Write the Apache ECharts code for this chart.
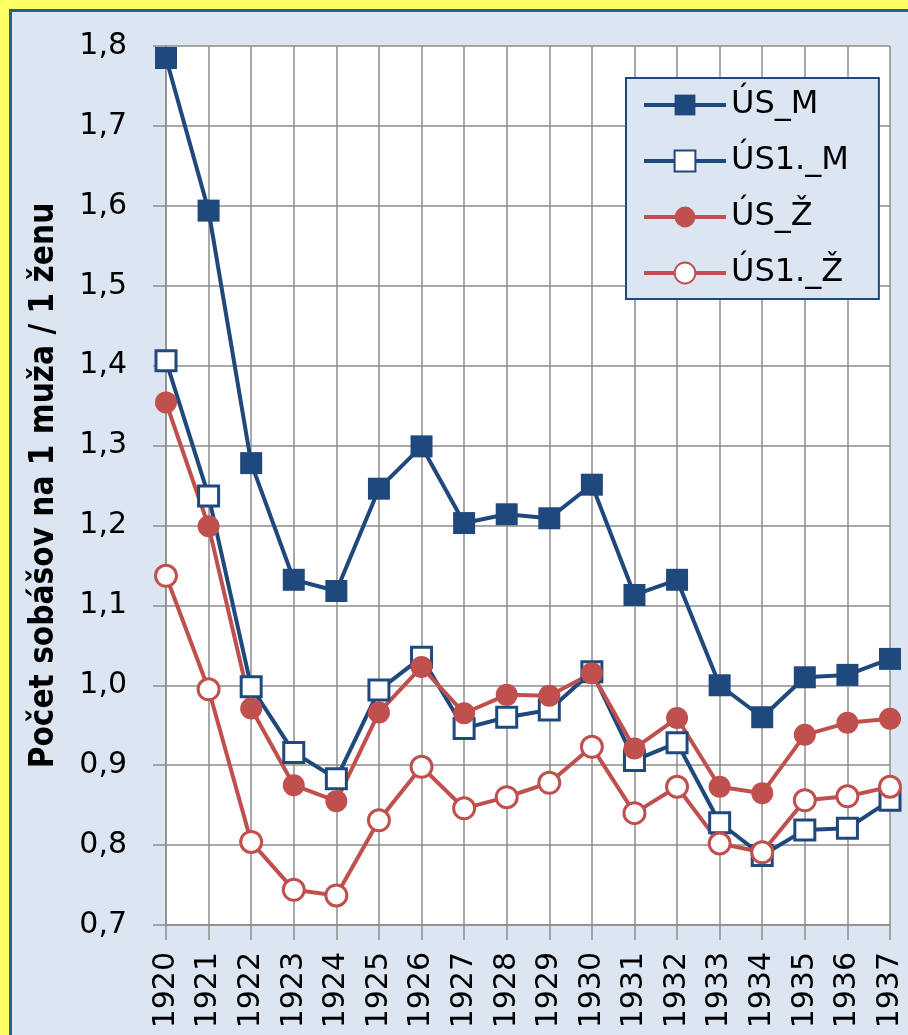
<!DOCTYPE html>
<html>
<head>
<meta charset="utf-8">
<script src="https://cdn.jsdelivr.net/npm/echarts@6/dist/echarts.min.js"></script>
<style>
html,body{margin:0;padding:0;background:#ffff66;overflow:hidden;width:908px;height:1035px;}
#panel{position:absolute;left:9px;top:9px;width:1000px;height:1100px;background:#dce6f2;border-left:3px solid #2f5a8f;border-top:3px solid #2f5a8f;}
#c{position:absolute;left:0;top:0;width:908px;height:1035px;}
</style>
</head>
<body>
<div id="panel"></div>
<div id="c"></div>
<script>
const years = ['1920','1921','1922','1923','1924','1925','1926','1927','1928','1929','1930','1931','1932','1933','1934','1935','1936','1937'];
const usM  = [1.785,1.594,1.278,1.132,1.118,1.246,1.299,1.203,1.214,1.209,1.251,1.113,1.132,1.000,0.960,1.010,1.013,1.033];
const us1M = [1.406,1.237,0.998,0.916,0.883,0.994,1.035,0.946,0.960,0.969,1.017,0.906,0.928,0.828,0.787,0.819,0.821,0.856];
const usZ  = [1.354,1.199,0.971,0.875,0.855,0.966,1.023,0.965,0.988,0.987,1.015,0.921,0.959,0.873,0.865,0.938,0.953,0.958];
const us1Z = [1.137,0.995,0.804,0.744,0.737,0.831,0.898,0.846,0.860,0.878,0.923,0.840,0.873,0.802,0.791,0.856,0.861,0.873];
const seriesNames = ['ÚS_M','ÚS1._M','ÚS_Ž','ÚS1._Ž'];
const yTitle = 'Počet sobášov na 1 muža / 1 ženu';

const NAVY = '#1f497d', RED = '#c0504d', GRID = '#8c8c8c';
const chart = echarts.init(document.getElementById('c'));
function mk(name, data, color, symbol, filled, size){
  return {
    name: name, type: 'line', data: data,
    symbol: symbol, symbolSize: size,
    lineStyle: {color: color, width: 4},
    itemStyle: filled ? {color: color} : {color: '#ffffff', borderColor: color, borderWidth: 3},
    emphasis: {disabled: true}
  };
}
chart.setOption({
  animation: false,
  backgroundColor: 'transparent',
  grid: {left: 166, right: 18, top: 46, bottom: 110, show: true, backgroundColor: '#ffffff', borderWidth: 0},
  legend: {
    orient: 'vertical', left: 626, top: 78,
    backgroundColor: '#dce6f2', borderColor: NAVY, borderWidth: 2,
    padding: [11, 30, 10, 16],
    itemWidth: 82, itemHeight: 26, itemGap: 24,
    lineStyle: {width: 4},
    textStyle: {fontFamily: 'DejaVu Sans', fontSize: 32, color: '#000', lineHeight: 30},
    data: seriesNames
  },
  xAxis: {
    type: 'category', data: years, boundaryGap: false,
    axisLine: {lineStyle: {color: GRID, width: 1.5}},
    axisTick: {show: true, length: 15, interval: 0, lineStyle: {color: GRID, width: 1.5}},
    splitLine: {show: true, interval: 0, lineStyle: {color: GRID, width: 1.5}},
    axisLabel: {rotate: 90, interval: 0, margin: 27, fontFamily: 'DejaVu Sans', fontSize: 30, color: '#000'}
  },
  yAxis: {
    type: 'value', min: 0.7, max: 1.8, interval: 0.1,
    name: yTitle, nameLocation: 'middle', nameGap: 105,
    nameTextStyle: {fontFamily: 'Liberation Sans Narrow, DejaVu Sans Condensed, Liberation Sans', fontWeight: 'bold', fontSize: 33, color: '#000'},
    axisLine: {show: true, lineStyle: {color: GRID, width: 1.5}},
    axisTick: {show: true, length: 13, lineStyle: {color: GRID, width: 1.5}},
    splitLine: {show: true, lineStyle: {color: GRID, width: 1.5}},
    axisLabel: {margin: 39, fontFamily: 'DejaVu Sans', fontSize: 30, color: '#000',
      formatter: v => v.toFixed(1).replace('.', ',')}
  },
  series: [
    mk(seriesNames[0], usM, NAVY, 'rect', true, 22),
    mk(seriesNames[1], us1M, NAVY, 'rect', false, 20),
    mk(seriesNames[2], usZ, RED, 'circle', true, 22),
    mk(seriesNames[3], us1Z, RED, 'circle', false, 21)
  ]
});
</script>
</body>
</html>
